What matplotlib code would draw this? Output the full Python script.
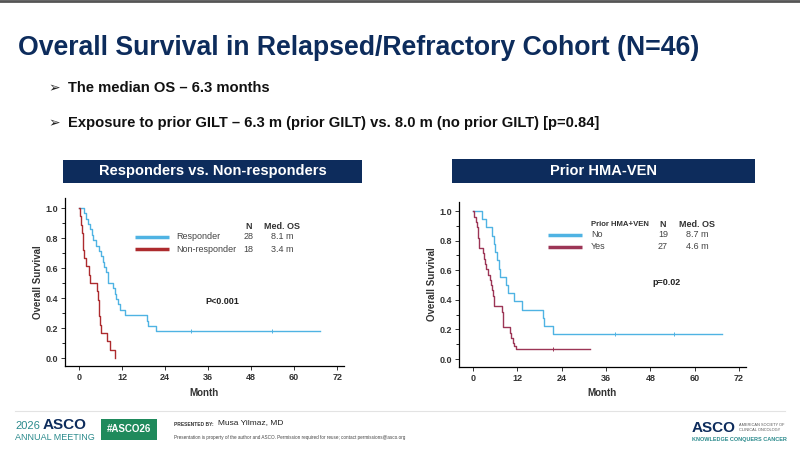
import matplotlib
matplotlib.use('Agg')
import matplotlib.pyplot as plt
from matplotlib.patches import Rectangle
from matplotlib.lines import Line2D
from matplotlib.ticker import MultipleLocator

plt.rcParams['font.family'] = ['Liberation Sans', 'DejaVu Sans']

# ---- data ----
resp_t = [0, 1.3, 2.0, 2.6, 3.1, 3.5, 4.0, 4.8, 5.6, 6.2, 6.8, 7.1, 7.5, 8.0,
          9.4, 10.0, 10.4, 10.9, 11.3, 12.9, 18.9, 19.3, 21.6, 67.2]
resp_s = [1.0, 0.964, 0.929, 0.893, 0.857, 0.821, 0.786, 0.75, 0.714, 0.679,
          0.643, 0.607, 0.571, 0.5, 0.464, 0.429, 0.393, 0.357, 0.321, 0.286,
          0.25, 0.214, 0.179, 0.179]
resp_cens_t = [31.1, 53.9]

nonresp_t = [0, 0.3, 0.6, 0.8, 1.0, 1.1, 1.3, 2.0, 2.7, 3.2, 5.1, 5.3, 5.5,
             5.6, 5.8, 6.1, 7.8, 8.6, 10.1]
nonresp_s = [1.0, 0.944, 0.889, 0.833, 0.778, 0.722, 0.667, 0.611, 0.556, 0.5,
             0.444, 0.389, 0.333, 0.278, 0.222, 0.167, 0.111, 0.056, 0.0]

no_t = [0, 2.3, 3.6, 5.2, 5.6, 6.0, 6.5, 6.9, 7.2, 8.8, 9.4, 11.1, 13.2, 19.0,
        19.2, 21.7, 67.5]
no_s = [1.0, 0.947, 0.889, 0.833, 0.778, 0.722, 0.667, 0.611, 0.556, 0.5,
        0.444, 0.389, 0.333, 0.278, 0.222, 0.167, 0.167]
no_cens_t = [38.4, 54.3]

yes_t = [0, 0.3, 0.8, 1.1, 1.3, 1.5, 2.8, 3.0, 3.3, 3.6, 4.0, 4.5, 4.9, 5.2,
         5.5, 5.8, 7.8, 8.0, 8.2, 10.1, 10.4, 10.7, 11.2, 11.7, 31.6]
yes_s = [1.0, 0.963, 0.926, 0.889, 0.815, 0.75, 0.714, 0.679, 0.643, 0.607,
         0.571, 0.536, 0.5, 0.464, 0.429, 0.357, 0.321, 0.286, 0.214, 0.179,
         0.143, 0.107, 0.089, 0.071, 0.071]
yes_cens_t = [21.7]

left_labels = ['Responder', 'Non-responder']
left_n = ['28', '18']
left_med = ['8.1 m', '3.4 m']
right_labels = ['No', 'Yes']
right_n = ['19', '27']
right_med = ['8.7 m', '4.6 m']

NAVY = '#0d2c5c'
BLUE = '#4fb3e3'
RED_L = '#ad2b2e'
RED_R = '#9c3556'
GRAY = '#333333'

fig = plt.figure(figsize=(8, 4.49), dpi=100)
W, H = 800, 449


def fx(px):
    return px / W


def fy(py):
    return 1 - py / H


# top border line
fig.add_artist(Line2D([0, 1], [fy(1), fy(1)], color='#555555', lw=2))

# title and bullets
fig.text(fx(18), fy(48), 'Overall Survival in Relapsed/Refractory Cohort (N=46)',
         fontsize=19.2, fontweight='bold', color=NAVY, va='center')
for yy, txt in [(88, 'The median OS \u2013 6.3 months'),
                (123, 'Exposure to prior GILT \u2013 6.3 m (prior GILT) vs. 8.0 m (no prior GILT) [p=0.84]')]:
    fig.text(fx(48), fy(yy), '\u27a2', fontsize=10, color='#222222', va='center',
             family=['DejaVu Sans'])
    fig.text(fx(68), fy(yy), txt, fontsize=10.6, fontweight='bold', color='#111111',
             va='center')

# panel header boxes
for (x0, x1, y0, y1, title) in [(63, 362, 160, 183, 'Responders vs. Non-responders'),
                                (452, 755, 159, 183, 'Prior HMA-VEN')]:
    fig.add_artist(Rectangle((fx(x0), fy(y1)), fx(x1) - fx(x0), fy(y0) - fy(y1),
                             facecolor=NAVY, edgecolor='none'))
    fig.text(fx((x0 + x1) / 2), fy((y0 + y1) / 2), title, color='white',
             fontsize=10.5, fontweight='bold', ha='center', va='center')


def km_axes(rect, xlim, ylim):
    ax = fig.add_axes(rect)
    ax.set_xlim(*xlim)
    ax.set_ylim(*ylim)
    for s in ['top', 'right']:
        ax.spines[s].set_visible(False)
    ax.spines['left'].set_linewidth(0.9)
    ax.spines['bottom'].set_linewidth(0.9)
    ax.set_xticks(range(0, 73, 12))
    ax.set_yticks([0, 0.2, 0.4, 0.6, 0.8, 1.0])
    ax.set_yticklabels(['0.0', '0.2', '0.4', '0.6', '0.8', '1.0'])
    ax.yaxis.set_minor_locator(MultipleLocator(0.1))
    ax.tick_params(labelsize=6.5, colors=GRAY, length=3, width=0.7, pad=2)
    ax.tick_params(which='minor', length=2, width=0.6)
    for lab in ax.get_xticklabels() + ax.get_yticklabels():
        lab.set_fontweight('bold')
    ax.set_xlabel('Month', fontsize=7, fontweight='bold', color=GRAY, labelpad=4)
    ax.set_ylabel('Overall Survival', fontsize=7, fontweight='bold', color=GRAY,
                  labelpad=2)
    return ax


def survival_at(ts, ss, t):
    val = ss[0]
    for ti, si in zip(ts, ss):
        if ti <= t:
            val = si
    return val


# ---- left panel ----
axL = km_axes([fx(65), fy(366), fx(344) - fx(65), fy(198) - fy(366)],
              (-3.9, 73.9), (-0.053, 1.067))
axL.step(resp_t, resp_s, where='post', color=BLUE, lw=1.0)
axL.step(nonresp_t, nonresp_s, where='post', color=RED_L, lw=1.0)
axL.plot(resp_cens_t, [survival_at(resp_t, resp_s, t) for t in resp_cens_t],
         '|', color=BLUE, ms=3, mew=0.7)

axL.text(47.3, 0.878, 'N', fontsize=6.5, fontweight='bold', color=GRAY, ha='center', va='center')
axL.text(56.7, 0.878, 'Med. OS', fontsize=6.5, fontweight='bold', color=GRAY, ha='center', va='center')
for i, (c, yy) in enumerate([(BLUE, 0.807), (RED_L, 0.726)]):
    axL.plot([15.5, 25], [yy, yy], color=c, lw=2.5, solid_capstyle='butt')
    axL.text(27.2, yy, left_labels[i], fontsize=6.5, color='#444444', va='center')
    axL.text(47.3, yy, left_n[i], fontsize=6.5, color='#444444', ha='center', va='center')
    axL.text(56.7, yy, left_med[i], fontsize=6.5, color='#444444', ha='center', va='center')
axL.text(40, 0.376, 'P<0.001', fontsize=6.5, fontweight='bold', color='#222222',
         ha='center', va='center')

# ---- right panel ----
axR = km_axes([fx(459), fy(367), fx(746) - fx(459), fy(202) - fy(367)],
              (-3.8, 73.9), (-0.054, 1.061))
axR.step(no_t, no_s, where='post', color=BLUE, lw=1.0)
axR.step(yes_t, yes_s, where='post', color=RED_R, lw=1.0)
axR.plot(no_cens_t, [survival_at(no_t, no_s, t) for t in no_cens_t],
         '|', color=BLUE, ms=3, mew=0.7)
axR.plot(yes_cens_t, [survival_at(yes_t, yes_s, t) for t in yes_cens_t],
         '|', color=RED_R, ms=3, mew=0.7)

axR.text(32, 0.91, 'Prior HMA+VEN', fontsize=5.6, fontweight='bold', color=GRAY, va='center')
axR.text(51.4, 0.91, 'N', fontsize=6.5, fontweight='bold', color=GRAY, ha='center', va='center')
axR.text(60.5, 0.91, 'Med. OS', fontsize=6.5, fontweight='bold', color=GRAY, ha='center', va='center')
for i, (c, yy) in enumerate([(BLUE, 0.84), (RED_R, 0.757)]):
    axR.plot([20.3, 29.5], [yy, yy], color=c, lw=2.5, solid_capstyle='butt')
    axR.text(32, yy, right_labels[i], fontsize=6.5, color='#444444', va='center')
    axR.text(51.4, yy, right_n[i], fontsize=6.5, color='#444444', ha='center', va='center')
    axR.text(60.6, yy, right_med[i], fontsize=6.5, color='#444444', ha='center', va='center')
axR.text(52.3, 0.515, 'p=0.02', fontsize=6.5, fontweight='bold', color='#222222',
         ha='center', va='center')

# ---- footer ----
fig.add_artist(Line2D([fx(15), fx(785)], [fy(411), fy(411)], color='#e3e3e3', lw=0.8))
fig.text(fx(15), fy(426), '2026', fontsize=8, color='#2a8a8c', va='center')
fig.text(fx(43), fy(425), 'ASCO', fontsize=11, fontweight='bold', color=NAVY, va='center')
fig.text(fx(15), fy(437), 'ANNUAL MEETING', fontsize=6.5, color='#2a8a8c', va='center')
fig.add_artist(Rectangle((fx(101), fy(440)), fx(56), fy(419) - fy(440),
                         facecolor='#1f8a5c', edgecolor='none'))
fig.text(fx(129), fy(429.5), '#ASCO26', fontsize=7, fontweight='bold', color='white',
         ha='center', va='center')
fig.text(fx(174), fy(424), 'PRESENTED BY:', fontsize=3.5, fontweight='bold',
         color='#333333', va='center')
fig.text(fx(218), fy(423), 'Musa Yilmaz, MD', fontsize=6, color='#222222', va='center')
fig.text(fx(174), fy(437), 'Presentation is property of the author and ASCO. Permission '
         'required for reuse; contact permissions@asco.org', fontsize=3.3,
         color='#444444', va='center')
fig.text(fx(692), fy(428), 'ASCO', fontsize=11, fontweight='bold', color=NAVY, va='center')
fig.text(fx(739), fy(425), 'AMERICAN SOCIETY OF', fontsize=2.8, color='#555555', va='center')
fig.text(fx(739), fy(430), 'CLINICAL ONCOLOGY', fontsize=2.8, color='#555555', va='center')
fig.text(fx(692), fy(440), 'KNOWLEDGE CONQUERS CANCER', fontsize=4, fontweight='bold',
         color='#2a8a8c', va='center')

fig.savefig('out.png', dpi=100)
